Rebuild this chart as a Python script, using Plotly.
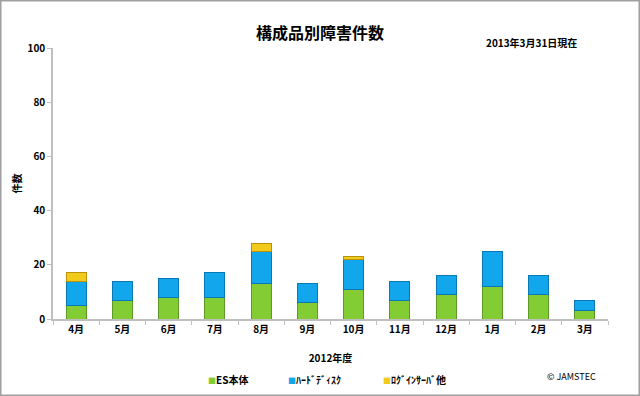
import plotly.graph_objects as go

months = ["4月", "5月", "6月", "7月", "8月", "9月", "10月", "11月", "12月", "1月", "2月", "3月"]
es_body = [5, 7, 8, 8, 13, 6, 11, 7, 9, 12, 9, 3]
hard_disk = [9, 7, 7, 9, 12, 7, 11, 7, 7, 13, 7, 4]
login_server = [3, 0, 0, 0, 3, 0, 1, 0, 0, 0, 0, 0]
series_names = ["ES本体", "ﾊｰﾄﾞﾃﾞｨｽｸ", "ﾛｸﾞｲﾝｻｰﾊﾞ他"]
y_ticks = [0, 20, 40, 60, 80, 100]

W, H = 640, 396
L, R, T, B = 53, 32, 48, 77
pw, ph = W - L - R, H - T - B

font = "Noto Sans CJK JP"

fig = go.Figure()
fills = ["#84CC34", "#12A6EC", "#F2CA1C"]
edges = ["#5E9A26", "#0A78B4", "#B8920C"]
for name, vals, fc, ec in zip(series_names, [es_body, hard_disk, login_server], fills, edges):
    fig.add_trace(go.Bar(
        x=months, y=[v if v else None for v in vals], name=name,
        marker=dict(color=fc, line=dict(color=ec, width=1)),
        showlegend=False,
    ))

def px(x):
    return (x - L) / pw

def py(y):
    return (H - B - y) / ph

legend_x = [206, 286, 381]
annotations = [
    dict(text="<b>構成品別障害件数</b>", xref="paper", yref="paper",
         x=px(320), y=py(32), xanchor="center", yanchor="middle",
         showarrow=False, font=dict(size=16, family=font)),
    dict(text="<b>2013年3月31日現在</b>", xref="paper", yref="paper",
         x=px(531), y=py(42), xanchor="center", yanchor="middle",
         showarrow=False, font=dict(size=10, family=font)),
    dict(text="© JAMSTEC", xref="paper", yref="paper",
         x=px(571), y=py(376), xanchor="center", yanchor="middle",
         showarrow=False, font=dict(size=9, family=font)),
]
for name, fc, lx in zip(series_names, fills, legend_x):
    annotations.append(dict(
        text=f"<span style='color:{fc};font-size:8px'>■</span><b>{name}</b>",
        xref="paper", yref="paper", x=px(lx), y=py(379),
        xanchor="left", yanchor="middle", showarrow=False,
        font=dict(size=10, family=font),
    ))

fig.update_layout(
    barmode="stack",
    bargap=0.57,
    width=W, height=H,
    margin=dict(l=L, r=R, t=T, b=B, autoexpand=False),
    paper_bgcolor="white",
    plot_bgcolor="white",
    font=dict(family=font, size=10, color="black"),
    showlegend=False,
    xaxis=dict(
        automargin=False,
        showline=True, linecolor="#BFBFBF", linewidth=1.5,
        ticks="outside", tickson="boundaries", ticklen=4, tickcolor="#BFBFBF",
        tickfont=dict(size=10, family=font, weight="bold"),
        title=dict(text="<b>2012年度</b>", font=dict(size=10, family=font), standoff=20),
    ),
    yaxis=dict(
        automargin=False,
        range=[0, 100], tickvals=y_ticks, showgrid=False, zeroline=False,
        showline=True, linecolor="#BFBFBF", linewidth=1.5,
        ticks="outside", ticklen=4, tickcolor="#BFBFBF",
        tickfont=dict(size=10, family=font, weight="bold"),
        title=dict(text="<b>件数</b>", font=dict(size=10, family=font), standoff=4),
    ),
    annotations=annotations,
    shapes=[
        dict(type="rect", xref="paper", yref="paper",
             x0=px(0.75), x1=px(639.25), y0=py(0.75), y1=py(395.25),
             line=dict(color="#A0A0A0", width=1.5), fillcolor="rgba(0,0,0,0)", layer="below"),
    ],
)

fig.write_html("out.html", config={"displayModeBar": False},
               post_script="document.body.style.margin='0';")
